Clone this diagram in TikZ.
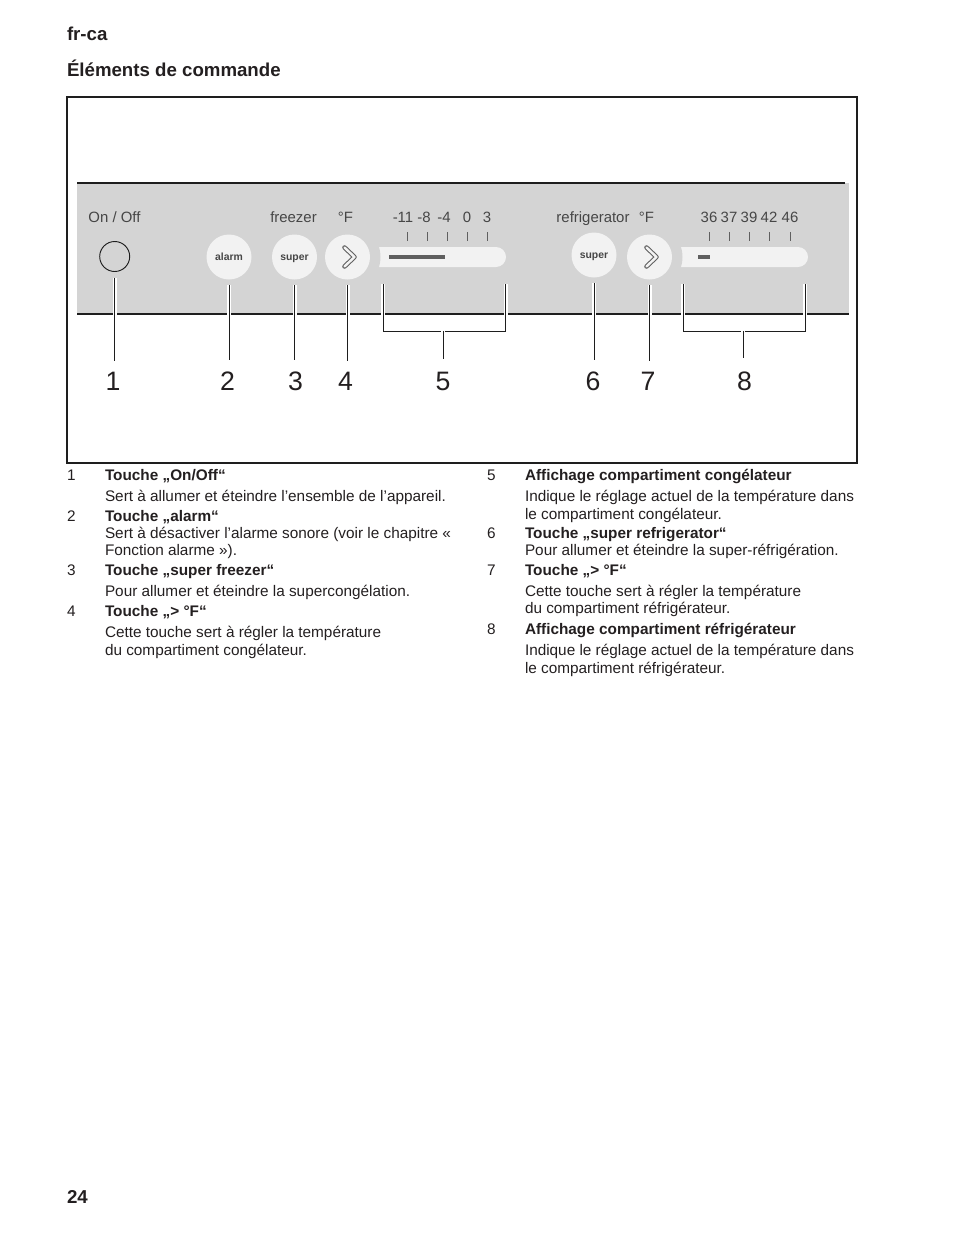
\documentclass[tikz,border=0pt]{standalone}
\usepackage{fontspec}
\setmainfont{Liberation Sans}

\definecolor{cptext}{RGB}{35,31,32}
\definecolor{cpline}{RGB}{30,30,30}
\definecolor{cpgray}{RGB}{212,212,212}
\definecolor{cpbtn}{RGB}{242,242,242}
\definecolor{cppanel}{RGB}{70,70,70}
\definecolor{cpmark}{RGB}{95,95,95}

\begin{document}
\begin{tikzpicture}[
  x=0.75pt,
  y=-0.75pt,
  every node/.style={inner sep=0pt, outer sep=0pt},
  cpHead/.style={font=\bfseries\fontsize{14}{16}\selectfont, text=cptext, anchor=base west},
  cpPanel/.style={font=\fontsize{11.2}{12}\selectfont, text=cppanel, anchor=base},
  cpBtn/.style={circle, fill=cpbtn, minimum size=33.75pt, text height=1.1ex, text depth=0pt,
    font=\bfseries\fontsize{7.8}{8}\selectfont, text=cppanel},
  cpKnob/.style={circle, draw=cpline, fill=cpgray, line width=0.7pt, minimum size=22.5pt},
  cpNum/.style={font=\fontsize{20}{22}\selectfont, text=cptext, anchor=base},
  cpItem/.style={font=\fontsize{11.5}{13}\selectfont, text=cptext, anchor=base west},
  cpItemHead/.style={cpItem, font=\bfseries\fontsize{11.5}{13}\selectfont},
  cpFrame/.style={draw=cpline, line width=0.8pt},
  cpCall/.style={draw=cpline, line width=0.75pt, preaction={draw=white, line width=3pt}},
  cpTick/.style={draw=cpmark, line width=0.75pt},
  cpChev/.style={draw=cpmark, line width=3.4pt, line cap=round, line join=round,
    postaction={draw=cpbtn, line width=1.8pt}}
]

  \path[use as bounding box] (0,0) rectangle (954,1235);

  \node[cpHead] (lang) at (67,40) {fr-ca};
  \node[cpHead] (title) at (67,76) {Éléments de commande};

  \draw[cpFrame] (67,97) rectangle (857,463);

  % control panel strip
  \fill[cpgray] (77,183) rectangle (849,314);
  \draw[cpFrame] (77,183) -- (845,183);
  \draw[cpFrame] (77,314) -- (849,314);

  % displays
  \fill[cpbtn, rounded corners=7.5pt] (365,247) rectangle (506,267);
  \fill[cpgray] (347.5,257) circle[radius=24.75pt];
  \draw[cpmark, line width=3pt] (389,257) -- (445,257);
  \fill[cpbtn, rounded corners=7.5pt] (665,247) rectangle (808,267);
  \fill[cpgray] (649.5,257) circle[radius=24.75pt];
  \draw[cpmark, line width=3pt] (698,257) -- (710,257);

  \foreach \x in {407,427,447,467,487} \draw[cpTick] (\x,232) -- (\x,241);
  \foreach \x in {709,729,749,769,790} \draw[cpTick] (\x,232) -- (\x,241);

  % panel labels
  \node[cpPanel] (lblOnOff) at (114.5,222.5) {On / Off};
  \node[cpPanel] (lblFreezer) at (293.5,222.5) {freezer};
  \node[cpPanel] (lblDegF) at (345.5,222.5) {°F};
  \foreach \x/\t [count=\i] in {403/-11,424/-8,444/-4,467/0,487/3}
    \node[cpPanel] (scF\i) at (\x,222.5) {\t};
  \node[cpPanel] (lblRefrig) at (593,222.5) {refrigerator};
  \node[cpPanel] (lblDegR) at (646.5,222.5) {°F};
  \foreach \x/\t [count=\i] in {709/36,729/37,749/39,769/42,790/46}
    \node[cpPanel] (scR\i) at (\x,222.5) {\t};

  % buttons
  \node[cpKnob] (onoff) at (114.7,256.5) {};
  \node[cpBtn] (alarm) at (229,257) {alarm};
  \node[cpBtn] (superF) at (294.5,257) {super};
  \node[cpBtn] (setF) at (347.5,257) {};
  \node[cpBtn] (superR) at (594,255) {super};
  \node[cpBtn] (setR) at (649.5,257) {};
  \draw[cpChev] ([shift={(-3,-9.5)}]setF.center) -- ([shift={(7,0)}]setF.center)
    -- ([shift={(-3,9.5)}]setF.center);
  \draw[cpChev] ([shift={(-3,-9.5)}]setR.center) -- ([shift={(7,0)}]setR.center)
    -- ([shift={(-3,9.5)}]setR.center);

  % callout numbers
  \node[cpNum] (n1) at (113,390) {1};
  \node[cpNum] (n2) at (227.5,390) {2};
  \node[cpNum] (n3) at (295.5,390) {3};
  \node[cpNum] (n4) at (345.5,390) {4};
  \node[cpNum] (n5) at (443,390) {5};
  \node[cpNum] (n6) at (593,390) {6};
  \node[cpNum] (n7) at (648,390) {7};
  \node[cpNum] (n8) at (744.5,390) {8};

  % callout lines
  \draw[cpCall, shorten <=4.5pt, shorten >=8.3pt] (onoff.south) -- (onoff.south |- n1.north);
  \draw[cpCall, shorten <=4pt, shorten >=8.3pt] (alarm.south) -- (alarm.south |- n2.north);
  \draw[cpCall, shorten <=4pt, shorten >=8.3pt] (superF.south) -- (superF.south |- n3.north);
  \draw[cpCall, shorten <=4pt, shorten >=8.3pt] (setF.south) -- (setF.south |- n4.north);
  \draw[cpCall, shorten <=4pt, shorten >=8.3pt] (superR.south) -- (superR.south |- n6.north);
  \draw[cpCall, shorten <=4pt, shorten >=8.3pt] (setR.south) -- (setR.south |- n7.north);

  \coordinate (f5a) at (383,284);
  \coordinate (f5b) at (505.5,284);
  \coordinate (f5m) at (443,331);
  \draw[cpCall] (f5a) -- ++(0,47) -| (f5b);
  \draw[cpCall, shorten >=9.8pt] (f5m) -- (f5m |- n5.north);

  \coordinate (f8a) at (683.3,284);
  \coordinate (f8b) at (805,284);
  \coordinate (f8m) at (743.3,331);
  \draw[cpCall] (f8a) -- ++(0,47) -| (f8b);
  \draw[cpCall, shorten >=9.8pt] (f8m) -- (f8m |- n8.north);

  % legend, left column
  \node[cpItem] (k1) at (67,480) {1};
  \node[cpItemHead] (h1) at (105,480) {Touche „On/Off“};
  \node[cpItem] (d1) at (105,501) {Sert à allumer et éteindre l’ensemble de l’appareil.};
  \node[cpItem] (k2) at (67,521) {2};
  \node[cpItemHead] (h2) at (105,521) {Touche „alarm“};
  \node[cpItem] (d2a) at (105,538) {Sert à désactiver l’alarme sonore (voir le chapitre «};
  \node[cpItem] (d2b) at (105,555) {Fonction alarme »).};
  \node[cpItem] (k3) at (67,575) {3};
  \node[cpItemHead] (h3) at (105,575) {Touche „super freezer“};
  \node[cpItem] (d3) at (105,596) {Pour allumer et éteindre la supercongélation.};
  \node[cpItem] (k4) at (67,616) {4};
  \node[cpItemHead] (h4) at (105,616) {Touche „> °F“};
  \node[cpItem] (d4a) at (105,637) {Cette touche sert à régler la température};
  \node[cpItem] (d4b) at (105,655) {du compartiment congélateur.};

  % legend, right column
  \node[cpItem] (k5) at (487,480) {5};
  \node[cpItemHead] (h5) at (525,480) {Affichage compartiment congélateur};
  \node[cpItem] (d5a) at (525,501) {Indique le réglage actuel de la température dans};
  \node[cpItem] (d5b) at (525,519) {le compartiment congélateur.};
  \node[cpItem] (k6) at (487,538) {6};
  \node[cpItemHead] (h6) at (525,538) {Touche „super refrigerator“};
  \node[cpItem] (d6) at (525,555) {Pour allumer et éteindre la super-réfrigération.};
  \node[cpItem] (k7) at (487,575) {7};
  \node[cpItemHead] (h7) at (525,575) {Touche „> °F“};
  \node[cpItem] (d7a) at (525,596) {Cette touche sert à régler la température};
  \node[cpItem] (d7b) at (525,613) {du compartiment réfrigérateur.};
  \node[cpItem] (k8) at (487,634) {8};
  \node[cpItemHead] (h8) at (525,634) {Affichage compartiment réfrigérateur};
  \node[cpItem] (d8a) at (525,655) {Indique le réglage actuel de la température dans};
  \node[cpItem] (d8b) at (525,673) {le compartiment réfrigérateur.};

  \node[cpHead] (page) at (67,1203) {24};

\end{tikzpicture}
\end{document}
